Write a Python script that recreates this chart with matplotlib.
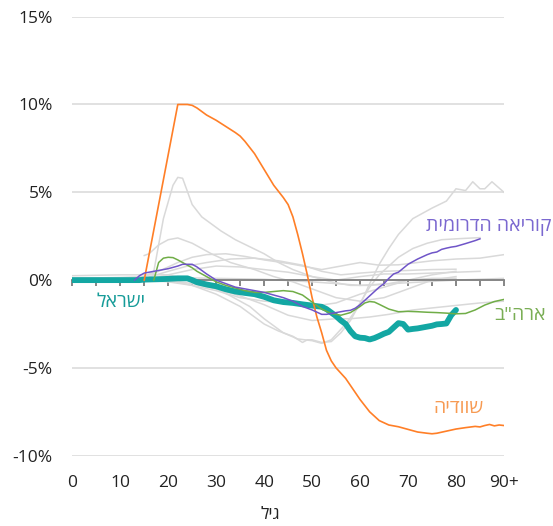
import matplotlib.pyplot as plt

plt.rcParams['font.family'] = ['Open Sans', 'DejaVu Sans']

# age -> change (%)
israel_age = [0, 5, 10, 14, 15, 18, 20, 22, 24, 25, 26, 28, 30, 32, 34, 36, 38, 40, 42, 44, 46, 48, 50,
              52, 53, 54, 55, 56, 57, 58, 59, 60, 61, 62, 63, 64, 65, 66, 67, 68, 69, 70, 71, 72, 73,
              74, 75, 76, 77, 78, 79, 80]
israel_val = [0, 0, 0, 0, 0.03, 0.05, 0.07, 0.1, 0.1, 0.0, -0.12, -0.25, -0.35, -0.52, -0.65, -0.73,
              -0.8, -0.95, -1.15, -1.25, -1.3, -1.38, -1.45, -1.52, -1.65, -1.85, -2.05, -2.3, -2.5,
              -2.9, -3.2, -3.28, -3.3, -3.38, -3.3, -3.18, -3.05, -2.95, -2.7, -2.45, -2.5, -2.82,
              -2.78, -2.75, -2.7, -2.65, -2.6, -2.52, -2.5, -2.47, -2.0, -1.7]

sweden_age = [15, 22, 24, 25, 26, 28, 30, 32, 34, 35, 36, 38, 40, 42, 44, 45, 46, 47, 48, 49, 50, 51,
              52, 53, 54, 55, 56, 57, 58, 60, 62, 64, 66, 68, 70, 72, 74, 75, 76, 78, 80, 82, 84, 85,
              86, 87, 88, 89, 90]
sweden_val = [0.0, 10.0, 10.0, 9.95, 9.8, 9.4, 9.1, 8.75, 8.4, 8.2, 7.9, 7.2, 6.3, 5.4, 4.7, 4.3, 3.6,
              2.6, 1.5, 0.3, -1.0, -2.1, -3.0, -4.0, -4.6, -5.0, -5.3, -5.6, -6.0, -6.8, -7.5, -8.0,
              -8.25, -8.35, -8.5, -8.65, -8.72, -8.75, -8.72, -8.6, -8.48, -8.4, -8.33, -8.36, -8.28,
              -8.22, -8.3, -8.25, -8.28]

korea_age = [13, 14, 15, 17, 20, 22, 23, 25, 26, 27, 28, 30, 32, 34, 36, 38, 40, 42, 44, 46, 48, 50,
             52, 53, 55, 57, 58, 59, 60, 61, 62, 63, 64, 65, 66, 67, 68, 70, 72, 74, 75, 76, 77, 78,
             79, 80, 82, 84, 85]
korea_val = [0.0, 0.25, 0.4, 0.5, 0.65, 0.8, 0.9, 0.9, 0.75, 0.55, 0.35, 0.0, -0.2, -0.4, -0.5, -0.6,
             -0.7, -0.85, -1.0, -1.2, -1.5, -1.7, -1.95, -1.95, -1.85, -1.75, -1.72, -1.6, -1.4,
             -1.15, -0.9, -0.65, -0.4, -0.2, 0.1, 0.35, 0.45, 0.9, 1.2, 1.45, 1.55, 1.6, 1.75, 1.82,
             1.88, 1.92, 2.08, 2.25, 2.35]

usa_age = [17, 18, 19, 20, 21, 22, 23, 24, 25, 26, 28, 30, 32, 34, 36, 38, 40, 42, 44, 46, 48, 50, 52,
           54, 56, 58, 60, 61, 62, 63, 64, 66, 68, 70, 72, 74, 76, 78, 80, 82, 84, 86, 88, 90]
usa_val = [0.0, 1.0, 1.25, 1.3, 1.28, 1.15, 1.0, 0.85, 0.7, 0.5, 0.2, -0.1, -0.3, -0.45, -0.6, -0.7,
           -0.7, -0.65, -0.6, -0.65, -0.85, -1.25, -1.65, -1.9, -2.0, -1.85, -1.5, -1.3, -1.22, -1.25,
           -1.38, -1.65, -1.8, -1.78, -1.8, -1.83, -1.85, -1.88, -1.92, -1.9, -1.7, -1.42, -1.22, -1.1]

# other countries (grey background lines)
others = [
    ([0, 10, 15, 17, 19, 21, 22, 23, 25, 27, 29, 31, 34, 37, 40, 43, 46, 50, 54, 58, 62, 66, 70, 75, 80],
     [0.1, 0.15, 0.2, 0.5, 3.5, 5.4, 5.85, 5.8, 4.3, 3.6, 3.2, 2.8, 2.3, 1.9, 1.5, 1.0, 0.6, 0.2, -0.1,
      -0.3, -0.3, -0.2, 0.0, 0.3, 0.5]),
    ([15, 16, 18, 20, 22, 25, 29, 33, 38, 42, 46, 50, 55, 60, 65, 70, 75, 80],
     [1.4, 1.5, 2.0, 2.3, 2.4, 2.1, 1.5, 1.0, 0.6, 0.2, -0.1, -0.5, -1.0, -1.2, -1.0, -0.5, 0.0, 0.2]),
    ([0, 10, 20, 25, 27, 30, 33, 37, 40, 44, 47, 50, 52, 54, 57, 60, 62, 64, 66, 68, 71, 75, 78, 80, 82,
      83.5, 85, 86, 87.5, 90],
     [0.25, 0.3, 0.3, 0.0, -0.2, -0.5, -0.9, -1.5, -2.2, -3.0, -3.35, -3.45, -3.6, -3.4, -2.5, -1.4,
      -0.2, 0.9, 1.8, 2.6, 3.5, 4.1, 4.5, 5.2, 5.1, 5.6, 5.2, 5.2, 5.6, 5.0]),
    ([20, 25, 30, 35, 40, 43, 46, 48, 49, 50, 52, 54, 56, 58, 60, 62, 64, 66, 68, 71, 74, 77, 80, 85],
     [0.0, -0.3, -0.8, -1.5, -2.5, -2.9, -3.2, -3.55, -3.4, -3.4, -3.55, -3.5, -3.0, -2.3, -1.3, -0.4,
      0.3, 0.8, 1.3, 1.8, 2.1, 2.3, 2.35, 2.42]),
    ([0, 20, 25, 30, 35, 40, 45, 50, 55, 58, 62, 66, 71, 78, 85, 90],
     [0.0, 0.0, -0.2, -0.5, -0.9, -1.4, -2.0, -2.3, -2.2, -2.2, -2.1, -1.95, -1.7, -1.5, -1.3, -1.2]),
    ([15, 18, 22, 25, 28, 32, 36, 40, 45, 49, 52, 56, 60, 64, 68, 75, 80, 85, 90],
     [0.2, 0.5, 1.0, 1.3, 1.45, 1.5, 1.35, 1.15, 0.95, 0.75, 0.6, 0.8, 1.0, 0.85, 0.87, 1.1, 1.2, 1.25,
      1.45]),
    ([15, 20, 24, 28, 33, 38, 43, 48, 52, 56, 60, 65, 70, 75, 80],
     [0.1, 0.5, 0.8, 1.0, 1.2, 1.25, 1.1, 0.85, 0.5, 0.3, 0.4, 0.5, 0.55, 0.6, 0.62]),
    ([15, 20, 25, 30, 35, 40, 45, 50, 55, 60, 65, 70, 75, 80, 85],
     [0.0, 0.3, 0.6, 0.8, 0.75, 0.6, 0.45, 0.2, 0.0, 0.2, 0.35, 0.35, 0.4, 0.45, 0.5]),
    ([15, 20, 25, 30, 35, 40, 45, 50, 55, 60, 65, 70, 75, 80],
     [0.0, -0.1, -0.3, -0.6, -1.0, -1.2, -1.3, -1.5, -1.3, -0.8, -0.4, 0.0, 0.1, 0.1]),
    ([0, 15, 20, 30, 40, 50, 60, 70, 80, 90],
     [0.1, 0.1, 0.15, 0.1, 0.05, -0.1, -0.3, -0.15, 0.0, 0.1]),
]

xtick_vals = [0, 10, 20, 30, 40, 50, 60, 70, 80, 90]
xtick_labels = ['0', '10', '20', '30', '40', '50', '60', '70', '80', '90+']
ytick_vals = [-10, -5, 0, 5, 10, 15]


def rtl(s):
    # matplotlib has no bidi support, so flip Hebrew strings for display
    return s[::-1]


fig = plt.figure(figsize=(5.53, 5.26), dpi=100)
ax = fig.add_axes([0.1307, 0.1336, 0.7806, 0.8347])

for a, v in others:
    ax.plot(a, v, color='#d9d9d9', lw=1.1, zorder=2)

ax.plot(israel_age, israel_val, color='#13a7a3', lw=4.2, solid_capstyle='round', zorder=3)
ax.plot(sweden_age, sweden_val, color='#ff7f27', lw=1.2, zorder=4)
ax.plot(usa_age, usa_val, color='#70ad47', lw=1.1, zorder=4)
ax.plot(korea_age, korea_val, color='#6f55c8', lw=1.1, zorder=4)

ax.text(10.1, -1.23, rtl('ישראל'), color='#179c99', fontsize=14, ha='center', va='center')
ax.text(86.8, 3.03, rtl('קוריאה הדרומית'), color='#7b68d0', fontsize=14, ha='center', va='center')
ax.text(93.3, -2.0, rtl('ארה"ב'), color='#7aae55', fontsize=14, ha='center', va='center')
ax.text(80.6, -7.26, rtl('שוודיה'), color='#f79a52', fontsize=14, ha='center', va='center')

ax.set_xlim(0, 90)
ax.set_ylim(-10, 15)
ax.set_yticks(ytick_vals)
ax.set_yticklabels([f'{v}%' for v in ytick_vals])
ax.yaxis.grid(True, color='#dcdcdc', lw=1.2)
ax.set_axisbelow(True)
ax.tick_params(axis='y', length=0, pad=14, labelsize=12.5, labelcolor='#222222')
for s in ['top', 'right', 'left']:
    ax.spines[s].set_visible(False)

# zero line with tick marks
ax.spines['bottom'].set_position(('data', 0))
ax.spines['bottom'].set_color('#7f7f7f')
ax.spines['bottom'].set_linewidth(1.3)
ax.set_xticks(range(0, 91, 5))
ax.set_xticklabels([])
ax.tick_params(axis='x', direction='out', length=4, width=1.1, color='#666666')

# age labels at the bottom
sec = ax.secondary_xaxis('bottom')
sec.set_xticks(xtick_vals)
sec.set_xticklabels(xtick_labels)
sec.tick_params(length=0, pad=14, labelsize=12.5, labelcolor='#222222')
sec.spines['bottom'].set_visible(False)

fig.text(270 / 553, 1 - 515 / 526, rtl('גיל'), fontsize=12.5, color='#222222',
         ha='center', va='center')

fig.savefig('out.png', dpi=100)
